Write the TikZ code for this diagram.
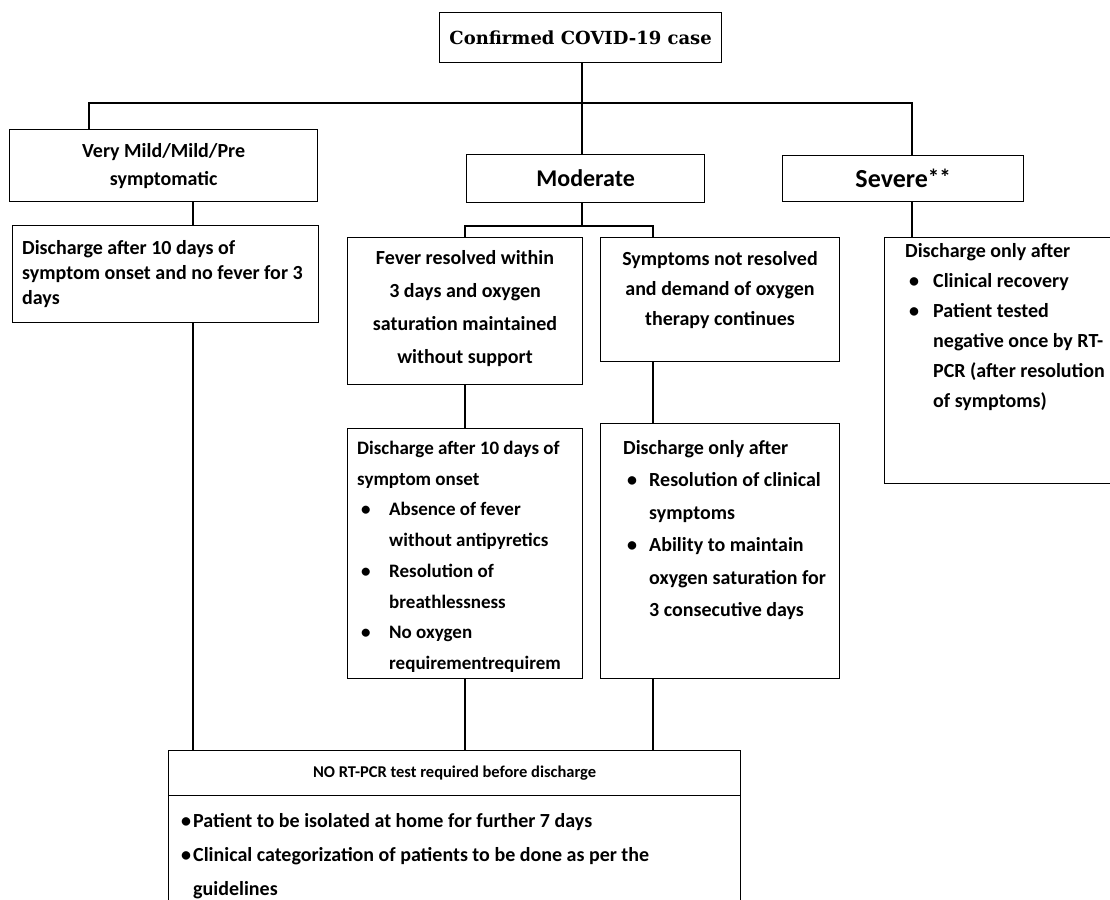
\documentclass[tikz,border=0pt]{standalone}
\usepackage{fontspec}
\setmainfont{Carlito}
\newfontfamily\slabfont{DejaVu Serif}
\usetikzlibrary{positioning,calc}

\tikzset{
  box/.style={draw, line width=1.3pt, rectangle, inner sep=0pt, anchor=north west},
  txt/.style={inner sep=0pt, font=\fontsize{20}{30}\selectfont\bfseries},
  wire/.style={line width=1.3pt},
}
\newcommand{\bul}[1]{\makebox[#1][l]{\hspace{4pt}\textbullet}}

\begin{document}
\begin{tikzpicture}[x=1pt,y=-1pt]
  \useasboundingbox (0,0) rectangle (1110,899);
  % box in cima
  \node[box, minimum width=282, minimum height=50] (top) at (439,12) {};
  \node[inner sep=0pt, font=\fontsize{18}{20}\selectfont\slabfont\bfseries] (toptxt) at (top.center) {Confirmed COVID-19 case};
  % le tre categorie
  \node[box, minimum width=308, minimum height=72] (vm) at (9,129) {};
  \node[txt, align=center, font=\fontsize{20}{28}\selectfont\bfseries] (vmtxt) at (vm.center) {Very Mild/Mild/Pre\\symptomatic};
  \node[box, minimum width=238, minimum height=48] (mod) at (466,154) {};
  \node[txt, font=\fontsize{24}{28}\selectfont\bfseries] (modtxt) at (mod.center) {Moderate};
  \node[box, minimum width=241, minimum height=46] (sev) at (782,155) {};
  \node[txt, font=\fontsize{26}{28}\selectfont\bfseries] (sevtxt) at (sev.center) {Severe\raisebox{2pt}{\fontsize{23}{23}\selectfont **}};
  % ramo sinistro
  \node[box, minimum width=306, minimum height=97] (ldis) at (12,225) {};
  \node[txt, align=left, anchor=north west, font=\fontsize{20}{25}\selectfont\bfseries] (ldistxt) at (22,240)
    {Discharge after 10 days of\\symptom onset and no fever for 3\\days};
  % ramo centrale
  \node[box, minimum width=235, minimum height=147] (fev) at (347,237) {};
  \node[txt, align=center, anchor=north, font=\fontsize{20}{33}\selectfont\bfseries] (fevtxt) at (465,250)
    {Fever resolved within\\3 days and oxygen\\saturation maintained\\without support};
  \node[box, minimum width=239, minimum height=124] (sym) at (600,237) {};
  \node[txt, align=center, anchor=north] (symtxt) at (720,251)
    {Symptoms not resolved\\and demand of oxygen\\therapy continues};
  \node[box, minimum width=235, minimum height=250] (ldm) at (347,428) {};
  \node[txt, align=left, anchor=north west, font=\fontsize{19}{30.7}\selectfont\bfseries] (ldmtxt) at (357,441)
    {Discharge after 10 days of\\symptom onset\\
     \bul{32pt}Absence of fever\\\hspace*{32pt}without antipyretics\\
     \bul{32pt}Resolution of\\\hspace*{32pt}breathlessness\\
     \bul{32pt}No oxygen\\\hspace*{32pt}requirementrequirem};
  \node[box, minimum width=239, minimum height=255] (rdm) at (600,423) {};
  \node[txt, align=left, anchor=north west, font=\fontsize{20}{32.5}\selectfont\bfseries] (rdmtxt) at (623,440)
    {Discharge only after\\
     \bul{26pt}Resolution of clinical\\\hspace*{26pt}symptoms\\
     \bul{26pt}Ability to maintain\\\hspace*{26pt}oxygen saturation for\\\hspace*{26pt}3 consecutive days};
  % ramo destro
  \node[box, minimum width=241, minimum height=246] (sdis) at (884,237) {};
  \node[txt, align=left, anchor=north west] (sdistxt) at (905,243)
    {Discharge only after\\
     \bul{28pt}Clinical recovery\\
     \bul{28pt}Patient tested\\\hspace*{28pt}negative once by RT-\\\hspace*{28pt}PCR (after resolution\\\hspace*{28pt}of symptoms)};
  % box finale
  \node[box, minimum width=572, minimum height=45] (bothead) at (168,750) {};
  \node[txt, font=\fontsize{16.5}{20}\selectfont\bfseries] (botheadtxt) at (bothead.center) {NO RT-PCR test required before discharge};
  \node[box, minimum width=572, minimum height=120] (botbody) at (168,795) {};
  \node[txt, align=left, anchor=north west, font=\fontsize{20}{34}\selectfont\bfseries] (botbodytxt) at (181,813)
    {\makebox[12pt][l]{\textbullet}Patient to be isolated at home for further 7 days\\
     \makebox[12pt][l]{\textbullet}Clinical categorization of patients to be done as per the\\
     \hspace*{12pt}guidelines};
  % linee di collegamento
  \coordinate (hub) at (582,103);
  \coordinate (hl) at (89,103);
  \coordinate (hr) at (912,103);
  \coordinate (vx) at (193,0);
  \coordinate (fx) at (465,226);
  \coordinate (sx) at (653,226);
  \draw[wire] (hub |- top.south) -- (hub);
  \draw[wire] (hl |- vm.north) -- (hl) -- (hr) -- (hr |- sev.north);
  \draw[wire] (hub) -- (hub |- mod.north);
  \draw[wire] (vx |- vm.south) -- (vx |- ldis.north);
  \draw[wire] (vx |- ldis.south) -- (vx |- bothead.north);
  \draw[wire] (hub |- mod.south) -- (hub |- fx);
  \draw[wire] (fx |- fev.north) -- (fx) -- (sx) -- (sx |- sym.north);
  \draw[wire] (fx |- fev.south) -- (fx |- ldm.north);
  \draw[wire] (sx |- sym.south) -- (sx |- rdm.north);
  \draw[wire] (fx |- ldm.south) -- (fx |- bothead.north);
  \draw[wire] (sx |- rdm.south) -- (sx |- bothead.north);
  \draw[wire] (hr |- sev.south) -- (hr |- sdis.north);
\end{tikzpicture}
\end{document}
